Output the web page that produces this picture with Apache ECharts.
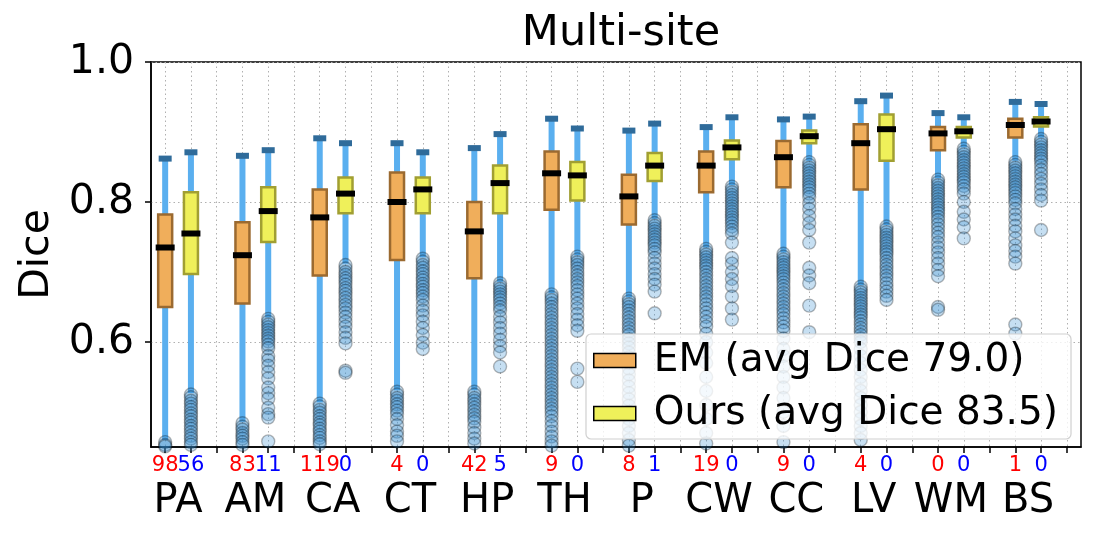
<!DOCTYPE html>
<html style="height: 100%">
<head>
    <meta charset="utf-8">
</head>
<body style="height: 100%; margin: 0">
    <div id="container" style="width: 1104px; height: 537px"></div>
    <script src="https://cdn.jsdelivr.net/npm/echarts@6/dist/echarts.min.js"></script>
    <script type="text/javascript">
        var categories = ['PA', 'AM', 'CA', 'CT', 'HP', 'TH', 'P', 'CW', 'CC', 'LV', 'WM', 'BS'];

        // EM boxes
        var emHigh = [0.862, 0.866, 0.891, 0.884, 0.877, 0.919, 0.902, 0.907, 0.918, 0.944, 0.927, 0.943];
        var emQ3 = [0.782, 0.771, 0.818, 0.842, 0.800, 0.872, 0.839, 0.872, 0.887, 0.911, 0.907, 0.919];
        var emMed = [0.735, 0.724, 0.778, 0.800, 0.758, 0.841, 0.808, 0.852, 0.864, 0.884, 0.898, 0.910];
        var emQ1 = [0.650, 0.655, 0.695, 0.717, 0.691, 0.789, 0.768, 0.814, 0.821, 0.818, 0.874, 0.892];
        var emLow = [0.460, 0.486, 0.514, 0.531, 0.531, 0.670, 0.664, 0.735, 0.728, 0.681, 0.834, 0.859];
        var emBelow = [98, 83, 119, 4, 42, 9, 8, 19, 9, 4, 0, 1];

        // Ours boxes
        var oursHigh = [0.871, 0.874, 0.884, 0.871, 0.897, 0.905, 0.912, 0.921, 0.922, 0.952, 0.921, 0.940];
        var oursQ3 = [0.814, 0.821, 0.835, 0.835, 0.852, 0.857, 0.870, 0.888, 0.902, 0.925, 0.907, 0.921];
        var oursMed = [0.755, 0.787, 0.812, 0.818, 0.827, 0.838, 0.852, 0.878, 0.894, 0.904, 0.901, 0.915];
        var oursQ1 = [0.697, 0.743, 0.784, 0.784, 0.784, 0.802, 0.830, 0.861, 0.884, 0.859, 0.892, 0.908];
        var oursLow = [0.527, 0.635, 0.712, 0.721, 0.686, 0.724, 0.776, 0.824, 0.859, 0.767, 0.878, 0.892];
        var oursBelow = [56, 11, 0, 0, 5, 0, 1, 0, 0, 0, 0, 0];

        // visible outliers
        var emOut = [
            [0.457, 0.453, 0.451],
            [0.484, 0.479, 0.475, 0.47, 0.466, 0.462, 0.457, 0.453],
            [0.512, 0.508, 0.503, 0.499, 0.494, 0.49, 0.485, 0.481, 0.476, 0.472, 0.467, 0.463, 0.458, 0.454],
            [0.529, 0.525, 0.52, 0.516, 0.511, 0.507, 0.502, 0.497, 0.49, 0.481, 0.472, 0.466, 0.458],
            [0.529, 0.525, 0.52, 0.516, 0.511, 0.506, 0.501, 0.496, 0.491, 0.486, 0.478, 0.47, 0.462, 0.455],
            [0.668, 0.664, 0.66, 0.655, 0.65, 0.645, 0.64, 0.635, 0.63, 0.625, 0.62, 0.615, 0.61, 0.605, 0.6,
                0.595, 0.59, 0.585, 0.58, 0.575, 0.57, 0.565, 0.56, 0.555, 0.55, 0.545, 0.54, 0.535, 0.53,
                0.525, 0.52, 0.515, 0.51, 0.505, 0.5, 0.494, 0.487, 0.48, 0.472, 0.465, 0.458, 0.452],
            [0.662, 0.658, 0.654, 0.65, 0.645, 0.64, 0.635, 0.63, 0.625, 0.62, 0.615, 0.61, 0.604, 0.598, 0.592,
                0.585, 0.578, 0.57, 0.562, 0.554, 0.545, 0.536, 0.527, 0.518, 0.509, 0.5, 0.49, 0.48, 0.47, 0.46, 0.452],
            [0.733, 0.729, 0.725, 0.721, 0.717, 0.713, 0.709, 0.705, 0.7, 0.695, 0.69, 0.685, 0.68, 0.675, 0.67,
                0.665, 0.66, 0.654, 0.648, 0.642, 0.636, 0.629, 0.622, 0.612, 0.6, 0.585, 0.57, 0.55, 0.53, 0.51,
                0.49, 0.47, 0.455],
            [0.726, 0.722, 0.718, 0.714, 0.71, 0.706, 0.702, 0.698, 0.694, 0.69, 0.685, 0.68, 0.675, 0.67, 0.665,
                0.66, 0.655, 0.65, 0.645, 0.64, 0.634, 0.628, 0.622, 0.616, 0.605, 0.59, 0.58, 0.565, 0.55, 0.535,
                0.52, 0.5, 0.48, 0.457],
            [0.679, 0.675, 0.671, 0.667, 0.663, 0.659, 0.655, 0.651, 0.647, 0.643, 0.639, 0.635, 0.63, 0.625, 0.62,
                0.615, 0.61, 0.605, 0.6, 0.59, 0.58, 0.57, 0.56, 0.55, 0.54, 0.53, 0.52, 0.51, 0.5, 0.49, 0.48,
                0.47, 0.46],
            [0.832, 0.828, 0.824, 0.82, 0.816, 0.812, 0.808, 0.804, 0.8, 0.796, 0.792, 0.788, 0.784, 0.779, 0.774,
                0.768, 0.762, 0.756, 0.75, 0.742, 0.735, 0.728, 0.72, 0.712, 0.703, 0.694, 0.65, 0.646],
            [0.857, 0.853, 0.849, 0.845, 0.841, 0.837, 0.833, 0.829, 0.825, 0.821, 0.817, 0.813, 0.808, 0.803,
                0.798, 0.79, 0.782, 0.775, 0.766, 0.758, 0.748, 0.738, 0.73, 0.722, 0.712, 0.625, 0.612]
        ];
        var oursOut = [
            [0.525, 0.521, 0.516, 0.512, 0.507, 0.503, 0.498, 0.494, 0.489, 0.485, 0.48, 0.476, 0.471, 0.466,
                0.462, 0.457, 0.453],
            [0.633, 0.629, 0.625, 0.621, 0.617, 0.613, 0.609, 0.605, 0.601, 0.596, 0.591, 0.58, 0.574, 0.566,
                0.557, 0.548, 0.535, 0.527, 0.519, 0.506, 0.497, 0.492, 0.458],
            [0.71, 0.705, 0.7, 0.696, 0.691, 0.687, 0.682, 0.677, 0.673, 0.668, 0.663, 0.658, 0.653, 0.648, 0.642,
                0.636, 0.629, 0.622, 0.614, 0.606, 0.598, 0.559, 0.556],
            [0.719, 0.715, 0.71, 0.706, 0.701, 0.697, 0.692, 0.688, 0.683, 0.679, 0.674, 0.67, 0.665, 0.66, 0.652,
                0.645, 0.638, 0.629, 0.62, 0.61, 0.599, 0.59],
            [0.684, 0.68, 0.676, 0.672, 0.668, 0.664, 0.66, 0.655, 0.65, 0.645, 0.636, 0.628, 0.62, 0.612, 0.603,
                0.594, 0.585, 0.565],
            [0.722, 0.718, 0.714, 0.71, 0.705, 0.7, 0.695, 0.69, 0.685, 0.68, 0.674, 0.668, 0.662, 0.655, 0.648,
                0.64, 0.632, 0.624, 0.616, 0.562, 0.543],
            [0.774, 0.77, 0.766, 0.762, 0.758, 0.754, 0.75, 0.746, 0.742, 0.738, 0.733, 0.728, 0.72, 0.712, 0.705,
                0.697, 0.69, 0.682, 0.672, 0.641],
            [0.822, 0.818, 0.814, 0.81, 0.806, 0.802, 0.798, 0.794, 0.79, 0.786, 0.782, 0.778, 0.774, 0.77, 0.765,
                0.76, 0.755, 0.742, 0.72, 0.712, 0.7, 0.69, 0.68, 0.665, 0.648, 0.632],
            [0.857, 0.853, 0.849, 0.845, 0.841, 0.837, 0.833, 0.829, 0.825, 0.821, 0.817, 0.812, 0.807, 0.798,
                0.79, 0.78, 0.77, 0.76, 0.742, 0.706, 0.695, 0.684, 0.652, 0.614],
            [0.765, 0.761, 0.757, 0.753, 0.749, 0.745, 0.741, 0.737, 0.733, 0.729, 0.725, 0.72, 0.715, 0.71, 0.705,
                0.7, 0.695, 0.69, 0.684, 0.678, 0.672, 0.666, 0.66],
            [0.876, 0.872, 0.868, 0.864, 0.86, 0.856, 0.852, 0.848, 0.844, 0.84, 0.836, 0.832, 0.828, 0.823, 0.818,
                0.812, 0.8, 0.786, 0.775, 0.764, 0.748],
            [0.89, 0.886, 0.882, 0.878, 0.874, 0.87, 0.866, 0.862, 0.858, 0.852, 0.846, 0.84, 0.833, 0.826, 0.818,
                0.81, 0.802, 0.76]
        ];

        var emName = 'EM (avg Dice 79.0)';
        var oursName = 'Ours (avg Dice 83.5)';
        var font = 'DejaVu Sans';

        // slot layout: group k -> EM at 3k, Ours at 3k+1, empty at 3k+2
        var emBoxes = [], oursBoxes = [], fliers = [];
        var slotTicks = [], emSlots = [], oursSlots = [], nameSlots = [];
        for (var s = 0; s < categories.length * 3; s++) slotTicks.push(s);
        categories.forEach(function(c, k) {
            emBoxes.push([3 * k, emLow[k], emQ1[k], emMed[k], emQ3[k], emHigh[k]]);
            oursBoxes.push([3 * k + 1, oursLow[k], oursQ1[k], oursMed[k], oursQ3[k], oursHigh[k]]);
            emOut[k].forEach(function(v) { fliers.push([3 * k, v]); });
            oursOut[k].forEach(function(v) { fliers.push([3 * k + 1, v]); });
            emSlots.push(3 * k);
            oursSlots.push(3 * k + 1);
            nameSlots.push(3 * k + 0.5);
        });

        function boxRenderer(fill, edge) {
            return function(params, api) {
                var x = api.value(0);
                var pLow = api.coord([x, api.value(1)]);
                var pQ1 = api.coord([x, api.value(2)]);
                var pMed = api.coord([x, api.value(3)]);
                var pQ3 = api.coord([x, api.value(4)]);
                var pHigh = api.coord([x, api.value(5)]);
                var cx = pHigh[0];
                return {
                    type: 'group',
                    children: [{
                        type: 'line',
                        shape: { x1: cx, y1: pLow[1], x2: cx, y2: pHigh[1] },
                        style: { stroke: '#5aafef', lineWidth: 6 }
                    }, {
                        type: 'rect',
                        shape: { x: cx - 6.5, y: pHigh[1] - 3, width: 13, height: 6 },
                        style: { fill: '#2f6b9a' }
                    }, {
                        type: 'rect',
                        shape: { x: cx - 7, y: pQ3[1], width: 14, height: pQ1[1] - pQ3[1] },
                        style: { fill: fill, stroke: edge, lineWidth: 2.5 }
                    }, {
                        type: 'rect',
                        shape: { x: cx - 9.5, y: pMed[1] - 3, width: 19, height: 6 },
                        style: { fill: '#000' }
                    }]
                };
            };
        }

        // extra label-only x axis sharing the slot scale
        function labelAxis(values, margin, label) {
            return {
                type: 'value',
                min: -0.55,
                max: 35.55,
                position: 'bottom',
                axisLine: { show: false, onZero: false },
                axisTick: { show: false },
                splitLine: { show: false },
                axisLabel: Object.assign({
                    customValues: values,
                    showMinLabel: true,
                    showMaxLabel: true,
                    margin: margin,
                    fontFamily: font
                }, label)
            };
        }

        var dom = document.getElementById('container');
        var myChart = echarts.init(dom);
        var option = {
            animation: false,
            backgroundColor: '#fff',
            title: {
                text: 'Multi-site',
                left: 616,
                textAlign: 'center',
                top: 7,
                textStyle: { fontFamily: font, fontSize: 43, fontWeight: 'normal', color: '#000' }
            },
            legend: {
                orient: 'vertical',
                left: 586,
                top: 334,
                padding: [7, 13, 6, 7],
                itemWidth: 42,
                itemHeight: 14,
                itemGap: 14,
                backgroundColor: 'rgba(255,255,255,0.8)',
                borderColor: '#d0d0d0',
                borderWidth: 1.2,
                borderRadius: 5,
                textStyle: { fontFamily: font, fontSize: 39, color: '#000', padding: [0, 0, 0, 13] },
                data: [{
                    name: emName,
                    icon: 'rect',
                    itemStyle: { color: '#f0ae5b', borderColor: '#000', borderWidth: 1.5 }
                }, {
                    name: oursName,
                    icon: 'rect',
                    itemStyle: { color: '#eff05a', borderColor: '#000', borderWidth: 1.5 }
                }]
            },
            grid: {
                left: 151, right: 23, top: 62, bottom: 90,
                show: true, borderColor: '#000', borderWidth: 1.5
            },
            xAxis: [{
                type: 'value',
                min: -0.55,
                max: 35.55,
                axisLine: { show: true, onZero: false, lineStyle: { color: '#000', width: 1.5 } },
                axisTick: { show: true, length: 6, customValues: slotTicks, lineStyle: { color: '#000', width: 1.5 } },
                splitLine: { show: true, lineStyle: { color: '#b0b0b0', width: 1, type: [1.5, 3] } },
                axisLabel: {
                    customValues: emSlots,
                    showMinLabel: true,
                    showMaxLabel: true,
                    margin: 8,
                    fontSize: 21,
                    fontFamily: font,
                    color: '#ff0000',
                    formatter: function(v) { return String(emBelow[Math.round(v / 3)]); }
                }
            },
                labelAxis(oursSlots, 8, {
                    fontSize: 21,
                    color: '#0000ff',
                    formatter: function(v) { return String(oursBelow[Math.round((v - 1) / 3)]); }
                }),
                labelAxis(nameSlots, 35, {
                    fontSize: 40,
                    color: '#000',
                    formatter: function(v) { return categories[Math.round((v - 0.5) / 3)]; }
                })
            ],
            yAxis: {
                type: 'value',
                min: 0.45,
                max: 1.0,
                name: 'Dice',
                nameLocation: 'middle',
                nameGap: 91,
                nameTextStyle: { fontFamily: font, fontSize: 41, color: '#000' },
                axisLine: { show: true, onZero: false, lineStyle: { color: '#000', width: 1.5 } },
                axisTick: { show: true, length: 6, customValues: [0.6, 0.8, 1.0], lineStyle: { color: '#000', width: 1.5 } },
                splitLine: { show: true, lineStyle: { color: '#b0b0b0', width: 1, type: [1.5, 3] } },
                axisLabel: {
                    customValues: [0.6, 0.8, 1.0],
                    margin: 17,
                    fontSize: 41,
                    fontFamily: font,
                    color: '#000',
                    formatter: function(v) { return v.toFixed(1); }
                }
            },
            series: [{
                name: emName,
                type: 'custom',
                clip: true,
                itemStyle: { color: '#f0ae5b' },
                renderItem: boxRenderer('#f0ae5b', '#9b6a30'),
                encode: { x: 0, y: [1, 2, 3, 4, 5] },
                data: emBoxes
            }, {
                name: oursName,
                type: 'custom',
                clip: true,
                itemStyle: { color: '#eff05a' },
                renderItem: boxRenderer('#eff05a', '#a19f32'),
                encode: { x: 0, y: [1, 2, 3, 4, 5] },
                data: oursBoxes
            }, {
                name: 'fliers',
                type: 'scatter',
                symbol: 'circle',
                symbolSize: 13,
                z: 3,
                itemStyle: {
                    color: 'rgba(52,140,210,0.35)',
                    borderColor: 'rgba(0,0,0,0.35)',
                    borderWidth: 1.4
                },
                data: fliers
            }]
        };
        myChart.setOption(option);
    </script>
</body>
</html>
